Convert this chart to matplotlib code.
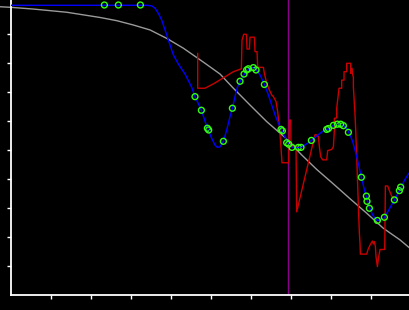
import matplotlib
matplotlib.use("Agg")
import matplotlib.pyplot as plt

# gray reference curve
gray_x = [-0.267, 0.0, 0.567, 1.4, 2.233, 2.65, 3.067, 3.483, 3.9, 4.317, 4.858, 5.233, 5.567,
          5.983, 6.4, 6.858, 7.275, 7.65, 8.067, 8.483, 8.9, 9.317, 9.733, 9.983]
gray_y = [9.94, 9.92, 9.86, 9.75, 9.57, 9.46, 9.31, 9.14, 8.85, 8.51, 7.99, 7.62, 7.13,
          6.55, 5.98, 5.43, 4.83, 4.33, 3.83, 3.32, 2.82, 2.30, 1.90, 1.61]

# blue fitted curve
blue_x = [0.0, 3.4, 3.525, 3.608, 3.692, 3.775, 3.858, 3.9, 3.983, 4.067, 4.192, 4.358, 4.525,
          4.608, 4.767, 4.917, 5.025, 5.108, 5.167, 5.233, 5.317, 5.4, 5.483, 5.542, 5.608,
          5.667, 5.733, 5.833, 5.942, 6.025, 6.108, 6.233, 6.342, 6.442, 6.525, 6.608, 6.692,
          6.775, 6.858, 6.95, 7.033, 7.15, 7.258, 7.383, 7.517, 7.65, 7.775, 7.942, 8.067,
          8.208, 8.317, 8.4, 8.467, 8.55, 8.633, 8.708, 8.767, 8.833, 8.9, 8.967, 9.05, 9.108,
          9.167, 9.25, 9.342, 9.442, 9.592, 9.733, 9.858, 9.983]
blue_y = [9.99, 9.99, 9.97, 9.89, 9.71, 9.48, 9.14, 8.97, 8.62, 8.28, 7.96, 7.62, 7.16,
          6.84, 6.37, 5.75, 5.40, 5.17, 5.09, 5.11, 5.30, 5.69, 6.15, 6.44, 6.84,
          7.16, 7.37, 7.62, 7.80, 7.85, 7.82, 7.59, 7.26, 6.90, 6.55, 6.21, 5.92,
          5.67, 5.44, 5.20, 5.09, 5.08, 5.09, 5.20, 5.33, 5.48, 5.62, 5.74, 5.85,
          5.90, 5.84, 5.74, 5.57, 5.29, 4.86, 4.43, 4.06, 3.68, 3.33, 3.02, 2.76, 2.64,
          2.57, 2.59, 2.68, 2.91, 3.28, 3.64, 3.99, 4.25]

# green sample points
pts_x = [2.342, 2.692, 3.242, 4.608, 4.767, 4.917, 4.95, 5.317, 5.542, 5.733, 5.833, 5.9,
         5.942, 6.067, 6.133, 6.342, 6.758, 6.792, 6.9, 6.95, 7.033, 7.192, 7.258, 7.517,
         7.9, 7.942, 8.067, 8.167, 8.25, 8.317, 8.442, 8.767, 8.892, 8.908, 8.967, 9.167,
         9.342, 9.592, 9.717, 9.75]
pts_y = [10.0, 10.0, 10.0, 6.84, 6.37, 5.75, 5.69, 5.30, 6.44, 7.37, 7.62, 7.76,
         7.80, 7.84, 7.76, 7.26, 5.71, 5.66, 5.25, 5.20, 5.09, 5.09, 5.09, 5.33,
         5.71, 5.74, 5.85, 5.89, 5.89, 5.84, 5.61, 4.06, 3.41, 3.23, 2.99, 2.57,
         2.68, 3.28, 3.60, 3.72]

# red signal
red_x = [4.675, 4.675, 4.858, 5.067, 5.317, 5.567, 5.767, 5.783, 5.825, 5.892, 5.908, 5.967,
         5.983, 6.092, 6.108, 6.158, 6.175, 6.317, 6.342, 6.4, 6.467, 6.525, 6.567, 6.633,
         6.675, 6.717, 6.75, 6.783, 6.95, 6.967, 7.0, 7.008, 7.067, 7.133, 7.15, 7.608,
         7.65, 7.692, 7.717, 7.75, 7.8, 7.9, 7.925, 8.025, 8.067, 8.092, 8.092, 8.15, 8.15,
         8.208, 8.275, 8.275, 8.333, 8.333, 8.4, 8.4, 8.5, 8.5, 8.533, 8.55, 8.567, 8.567,
         8.608, 8.625, 8.65, 8.692, 8.717, 8.733, 8.742, 8.9, 8.933, 8.983, 9.042, 9.067,
         9.092, 9.117, 9.133, 9.167, 9.2, 9.233, 9.35, 9.367, 9.425, 9.467, 9.525, 9.567]
red_y = [8.33, 7.13, 7.13, 7.28, 7.49, 7.70, 7.80, 8.79, 8.99, 8.99, 8.48, 8.48,
         8.89, 8.89, 8.39, 8.39, 7.85, 7.85, 7.64, 7.30, 7.07, 6.90, 6.84, 6.67,
         6.32, 5.80, 5.23, 4.56, 4.56, 6.03, 6.03, 5.17, 5.11, 5.14, 2.87, 5.53,
         5.52, 5.46, 5.11, 4.77, 4.66, 4.66, 4.98, 5.02, 5.11, 5.69, 6.09, 6.11, 6.44,
         7.13, 7.13, 7.41, 7.41, 7.70, 7.70, 7.99, 7.99, 7.64, 7.82, 7.59, 7.51, 7.18,
         6.21, 5.69, 4.77, 3.05, 2.13, 1.78, 1.41, 1.41, 1.57, 1.72, 1.86, 1.76,
         1.84, 1.67, 1.32, 0.98, 1.32, 1.57, 1.57, 3.76, 3.76, 3.60, 3.41, 3.33]

vline_x = 6.94
x_ticks = list(range(1, 10))
y_ticks = list(range(1, 10))

fig = plt.figure(figsize=(4.1, 3.1), dpi=100, facecolor="black")
ax = fig.add_axes([10.7 / 410, 15 / 310, 400 / 410, 295 / 310], facecolor="black")
ax.set_xlim(0, 10)
ax.set_ylim(0, 295 / 29)

ax.plot(gray_x, gray_y, color="#9a9a9a", lw=1.0, clip_on=False, zorder=2)
ax.axvline(vline_x, color="#8a008a", lw=1.0, zorder=1)
ax.plot(red_x, red_y, color="#c80000", lw=1.0, zorder=3)
ax.plot(blue_x, blue_y, color="#0000ff", lw=1.0, zorder=4)
ax.scatter(pts_x, pts_y, s=18, facecolors="none", edgecolors="#33ff11", linewidths=1.0, zorder=5)
ax.scatter(pts_x, pts_y, s=1.2, color="#0000ff", zorder=6, linewidths=0)

for s in ["top", "right"]:
    ax.spines[s].set_visible(False)
for s in ["left", "bottom"]:
    ax.spines[s].set_color("white")
    ax.spines[s].set_linewidth(1.3)
ax.set_xticks(x_ticks)
ax.set_yticks(y_ticks)
ax.tick_params(colors="white", direction="out", length=3, width=1.0,
               labelleft=False, labelbottom=False)

fig.savefig("out.png", dpi=100, facecolor="black")
